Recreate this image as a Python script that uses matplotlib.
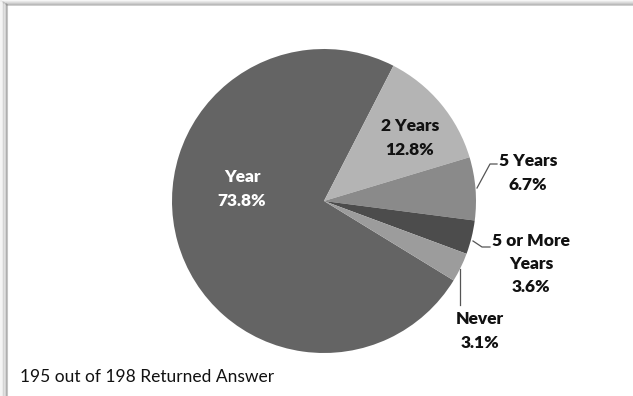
import numpy as np
import matplotlib.pyplot as plt
from matplotlib.lines import Line2D

labels = ["Year", "2 Years", "5 Years", "5 or More\nYears", "Never"]
shares = [73.8, 12.8, 6.7, 3.6, 3.1]
colors = ["#646464", "#b4b4b4", "#8a8a8a", "#4c4c4c", "#9c9c9c"]
footnote = "195 out of 198 Returned Answer"

plt.rcParams["font.family"] = ["Lato", "DejaVu Sans"]

W, H = 633, 396
cx, cy, r = 324, 201, 152

fig = plt.figure(figsize=(W / 100, H / 100), dpi=100)
ax = fig.add_axes([(cx - r) / W, (H - cy - r) / H, 2 * r / W, 2 * r / H])

ax.pie(shares, colors=colors, startangle=-31.5, counterclock=False,
       radius=1.0, wedgeprops=dict(linewidth=0))
ax.set_xlim(-1, 1)
ax.set_ylim(-1, 1)
ax.set_aspect("equal")
ax.axis("off")


def px(x, y):
    return (x - cx) / r, (cy - y) / r


# labels (pixel positions from the reference)
pos = [(242, 189), (410, 138), (528, 173), (531, 264), (480, 331)]
for i, (lab, v) in enumerate(zip(labels, shares)):
    x, y = px(*pos[i])
    col = "white" if i == 0 else "#111111"
    ax.text(x, y, f"{lab}\n{v}%", ha="center", va="center", fontsize=12.5,
            fontweight="heavy", color=col, linespacing=1.54, clip_on=False)

# leader lines
leaders = [
    [(477, 188), (490, 164), (497, 164)],
    [(473, 241), (482, 247), (490, 247)],
    [(460, 269), (460, 305)],
]
for pts in leaders:
    xs, ys = zip(*[px(*p) for p in pts])
    ax.plot(xs, ys, color="#555555", lw=0.9, clip_on=False)

fig.text(20 / W, 1 - 377 / H, footnote, fontsize=12.5, ha="left", va="center",
         color="#111111")

# frame with soft shadow (top and left)
for k, a in enumerate([0.08, 0.14, 0.22, 0.32, 0.45]):
    yt = 1 - (1 + k) / H
    xl = (1 + 1.5 * k) / W
    fig.add_artist(Line2D([xl, xl], [0, yt], transform=fig.transFigure,
                          color="gray", alpha=a, lw=1.5))
    fig.add_artist(Line2D([xl, 1], [yt, yt], transform=fig.transFigure,
                          color="gray", alpha=a, lw=1.2))

fig.savefig("out.png", dpi=100)
